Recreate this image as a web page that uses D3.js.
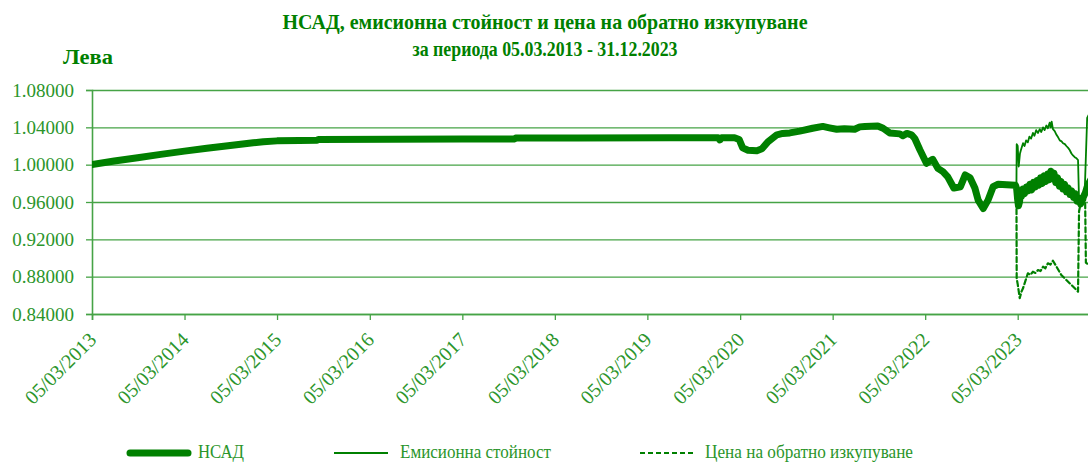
<!DOCTYPE html>
<html>
<head>
<meta charset="utf-8">
<script src="https://cdn.jsdelivr.net/npm/d3@7/dist/d3.min.js"></script>
<style>
  body { margin: 0; background: #ffffff; }
</style>
</head>
<body>
<div id="chart"></div>
<script>
// ---- data ----
const titleLines = [
  "НСАД, емисионна стойност и цена на обратно изкупуване",
  "за периода 05.03.2013 - 31.12.2023"
];
const yUnit = "Лева";
const yTicks = [0.84, 0.88, 0.92, 0.96, 1.00, 1.04, 1.08];
const tickDates = ["2013-03-05", "2014-03-05", "2015-03-05", "2016-03-05", "2017-03-05",
  "2018-03-05", "2019-03-05", "2020-03-05", "2021-03-05", "2022-03-05", "2023-03-05"];
const dateRange = ["2013-03-05", "2023-12-31"];
const seriesNames = ["НСАД", "Емисионна стойност", "Цена на обратно изкупуване"];

// НСАД (net asset value per share)
const navData = [
  ["2013-03-05", 1.000], ["2013-06-01", 1.0040], ["2013-09-01", 1.0075], ["2013-12-01", 1.0110],
  ["2014-03-05", 1.0145], ["2014-06-01", 1.0175], ["2014-09-01", 1.0205], ["2014-12-01", 1.0235],
  ["2015-01-10", 1.0245], ["2015-03-05", 1.0255], ["2015-06-01", 1.0260], ["2015-08-10", 1.0262],
  ["2015-08-15", 1.0270], ["2016-06-01", 1.0272], ["2017-03-05", 1.0274], ["2017-09-28", 1.0276],
  ["2017-10-02", 1.0285], ["2018-06-01", 1.0287], ["2019-06-01", 1.0288], ["2019-12-10", 1.0289],
  ["2019-12-16", 1.0265], ["2019-12-22", 1.0289], ["2020-02-12", 1.0288], ["2020-03-01", 1.0270],
  ["2020-03-15", 1.0180], ["2020-04-05", 1.0155], ["2020-05-10", 1.0150], ["2020-05-30", 1.0170],
  ["2020-06-23", 1.0246], ["2020-07-28", 1.0320], ["2020-08-20", 1.0335], ["2020-09-17", 1.0340],
  ["2020-10-26", 1.0360], ["2020-12-16", 1.0390], ["2021-01-25", 1.0410], ["2021-02-20", 1.0395],
  ["2021-03-21", 1.0380], ["2021-04-20", 1.0385], ["2021-05-31", 1.0380], ["2021-06-20", 1.0405],
  ["2021-07-10", 1.0410], ["2021-08-30", 1.0415], ["2021-09-20", 1.0390], ["2021-10-16", 1.0340],
  ["2021-11-25", 1.0330], ["2021-12-07", 1.0310], ["2021-12-23", 1.0335], ["2022-01-10", 1.0320],
  ["2022-01-23", 1.0280], ["2022-02-12", 1.0160], ["2022-03-10", 1.0015], ["2022-04-04", 1.0057],
  ["2022-04-24", 0.9960], ["2022-05-14", 0.9925], ["2022-06-02", 0.9870], ["2022-06-26", 0.9750],
  ["2022-07-22", 0.9764], ["2022-08-10", 0.9890], ["2022-08-29", 0.9860], ["2022-09-17", 0.9750],
  ["2022-09-30", 0.9620], ["2022-10-20", 0.9530], ["2022-11-08", 0.9620], ["2022-11-28", 0.9764],
  ["2022-12-18", 0.9790], ["2023-02-24", 0.9780], ["2023-03-01", 0.9740], ["2023-03-05", 0.9620],
  ["2023-03-08", 0.9560], ["2023-03-12", 0.9600], ["2023-03-16", 0.9700], ["2023-03-20", 0.9660],
  ["2023-03-26", 0.9740], ["2023-04-01", 0.9690], ["2023-04-08", 0.9760], ["2023-04-15", 0.9720],
  ["2023-04-22", 0.9790], ["2023-04-29", 0.9730], ["2023-05-06", 0.9810], ["2023-05-13", 0.9760],
  ["2023-05-20", 0.9830], ["2023-05-27", 0.9780], ["2023-06-03", 0.9860], ["2023-06-10", 0.9800],
  ["2023-06-17", 0.9880], ["2023-06-24", 0.9820], ["2023-07-01", 0.9900], ["2023-07-08", 0.9840],
  ["2023-07-14", 0.9930], ["2023-07-20", 0.9850], ["2023-07-26", 0.9910], ["2023-08-02", 0.9810],
  ["2023-08-09", 0.9860], ["2023-08-16", 0.9770], ["2023-08-23", 0.9820], ["2023-08-30", 0.9740],
  ["2023-09-06", 0.9790], ["2023-09-13", 0.9710], ["2023-09-20", 0.9750], ["2023-09-27", 0.9680],
  ["2023-10-04", 0.9720], ["2023-10-11", 0.9650], ["2023-10-18", 0.9690], ["2023-10-25", 0.9610],
  ["2023-11-01", 0.9640], ["2023-11-08", 0.9580], ["2023-11-14", 0.9620], ["2023-11-20", 0.9660],
  ["2023-11-27", 0.9700], ["2023-12-06", 0.9780], ["2023-12-31", 0.9900]
];

// Емисионна стойност (issue value)
const issueData = [
  ["2023-02-28", 0.9780], ["2023-03-01", 1.0220], ["2023-03-05", 1.0200], ["2023-03-09", 0.9980],
  ["2023-03-14", 1.0120], ["2023-03-18", 1.0160], ["2023-03-26", 1.0230], ["2023-04-01", 1.0200],
  ["2023-04-07", 1.0260], ["2023-04-14", 1.0240], ["2023-04-20", 1.0300], ["2023-04-27", 1.0280],
  ["2023-05-04", 1.0340], ["2023-05-10", 1.0310], ["2023-05-17", 1.0370], ["2023-05-24", 1.0340],
  ["2023-05-31", 1.0380], ["2023-06-06", 1.0350], ["2023-06-13", 1.0400], ["2023-06-19", 1.0370],
  ["2023-06-26", 1.0420], ["2023-07-02", 1.0390], ["2023-07-09", 1.0450], ["2023-07-13", 1.0400],
  ["2023-07-17", 1.0460], ["2023-07-22", 1.0380], ["2023-07-29", 1.0360], ["2023-08-05", 1.0320],
  ["2023-08-12", 1.0290], ["2023-08-18", 1.0260], ["2023-08-25", 1.0250], ["2023-08-31", 1.0230],
  ["2023-09-07", 1.0220], ["2023-09-13", 1.0200], ["2023-09-20", 1.0180], ["2023-09-26", 1.0157],
  ["2023-10-03", 1.0120], ["2023-10-09", 1.0100], ["2023-10-16", 1.0080], ["2023-10-23", 1.0068],
  ["2023-10-29", 1.0050], ["2023-11-02", 0.9620], ["2023-11-08", 0.9580], ["2023-11-14", 0.9620],
  ["2023-11-20", 0.9660], ["2023-11-24", 0.9680], ["2023-12-04", 1.0500], ["2023-12-31", 1.0650]
];

// Цена на обратно изкупуване (redemption price)
const redeemData = [
  ["2023-02-28", 0.9780], ["2023-03-01", 0.8780], ["2023-03-05", 0.8720], ["2023-03-13", 0.8570],
  ["2023-03-20", 0.8640], ["2023-03-26", 0.8675], ["2023-04-05", 0.8760], ["2023-04-14", 0.8836],
  ["2023-04-24", 0.8820], ["2023-05-04", 0.8853], ["2023-05-14", 0.8840], ["2023-05-24", 0.8871],
  ["2023-06-03", 0.8860], ["2023-06-13", 0.8907], ["2023-06-22", 0.8890], ["2023-07-02", 0.8943],
  ["2023-07-12", 0.8930], ["2023-07-22", 0.8971], ["2023-08-05", 0.8907], ["2023-08-24", 0.8818],
  ["2023-09-13", 0.8764], ["2023-10-03", 0.8711], ["2023-10-23", 0.8657], ["2023-10-29", 0.8639],
  ["2023-11-02", 0.9500], ["2023-11-08", 0.9580], ["2023-11-14", 0.9620], ["2023-11-20", 0.9660],
  ["2023-11-26", 0.9630], ["2023-11-29", 0.8950], ["2023-12-31", 0.8880]
];

// ---- drawing ----
const W = 1088, H = 463;
const margin = { top: 90, left: 92 };
const width = 1002;
const height = 224;
const green = "#008000";
const gridColor = "#46a346";
const labelColor = "#2b952b";
const FONT = '"Liberation Serif", "Times New Roman", "DejaVu Serif", serif';

const parse = d3.timeParse("%Y-%m-%d");
const toPoints = arr => arr.map(([d, v]) => ({ date: parse(d), value: v }));

const svg = d3.select("#chart").append("svg")
  .attr("width", W)
  .attr("height", H);

const x = d3.scaleTime()
  .domain(dateRange.map(parse))
  .range([0, width]);

const y = d3.scaleLinear()
  .domain([d3.min(yTicks), d3.max(yTicks)])
  .range([height, 0]);

// Title (reference glyphs are a bit condensed, hence textLength)
const titleWidths = [525, 265];
svg.append("g").selectAll("text")
  .data(titleLines)
  .enter().append("text")
  .attr("x", 545)
  .attr("y", (d, i) => 29 + i * 27)
  .attr("text-anchor", "middle")
  .attr("textLength", (d, i) => titleWidths[i])
  .attr("lengthAdjust", "spacingAndGlyphs")
  .style("font-family", FONT)
  .style("font-size", "22px")
  .style("font-weight", "bold")
  .style("fill", green)
  .text(d => d);

svg.append("text")
  .attr("x", 63)
  .attr("y", 64)
  .attr("textLength", 50)
  .attr("lengthAdjust", "spacingAndGlyphs")
  .style("font-family", FONT)
  .style("font-size", "22px")
  .style("font-weight", "bold")
  .style("fill", green)
  .text(yUnit);

const g = svg.append("g")
  .attr("transform", `translate(${margin.left},${margin.top})`);

g.append("defs").append("clipPath")
  .attr("id", "plot-clip")
  .append("rect")
  .attr("x", 0).attr("y", -4)
  .attr("width", width).attr("height", height + 8);

// Horizontal grid
g.append("g")
  .attr("class", "grid")
  .call(d3.axisLeft(y).tickValues(yTicks).tickSize(-width).tickFormat(""))
  .call(s => s.select(".domain").remove())
  .selectAll("line")
  .style("stroke", gridColor)
  .style("stroke-width", 1.3);

// Y axis
const yAxis = g.append("g")
  .call(d3.axisLeft(y).tickValues(yTicks).tickSize(6).tickPadding(12).tickFormat(d3.format(".5f")));
yAxis.select(".domain").style("stroke", gridColor).style("stroke-width", 1.6);
yAxis.selectAll(".tick line").style("stroke", gridColor).style("stroke-width", 1.3);
yAxis.selectAll("text")
  .style("font-family", FONT)
  .style("font-size", "19px")
  .style("fill", labelColor);

// X axis
const xAxis = g.append("g")
  .attr("transform", `translate(0,${height})`)
  .call(d3.axisBottom(x)
    .tickValues(tickDates.map(parse))
    .tickSize(6)
    .tickFormat(d3.timeFormat("%d/%m/%Y")));
xAxis.select(".domain").style("stroke", gridColor).style("stroke-width", 1.6);
xAxis.selectAll(".tick line").style("stroke", gridColor).style("stroke-width", 1.3);
xAxis.selectAll("text")
  .attr("x", 0)
  .attr("y", 0)
  .attr("dy", 0)
  .attr("text-anchor", "end")
  .attr("transform", "translate(5,27) rotate(-45)")
  .style("font-family", FONT)
  .style("font-size", "20px")
  .style("fill", labelColor);

// Lines
const line = d3.line()
  .x(d => x(d.date))
  .y(d => y(d.value));

const lines = g.append("g").attr("clip-path", "url(#plot-clip)");

const seriesStyles = [
  { data: navData, width: 7, dash: null },
  { data: issueData, width: 1.8, dash: null },
  { data: redeemData, width: 2.2, dash: "5,3" }
];

seriesStyles.forEach(s => {
  lines.append("path")
    .datum(toPoints(s.data))
    .attr("fill", "none")
    .attr("stroke", green)
    .attr("stroke-width", s.width)
    .attr("stroke-linejoin", "round")
    .attr("stroke-linecap", "round")
    .attr("stroke-dasharray", s.dash)
    .attr("d", line);
});

// Legend
const legendX = [130, 334, 640];
const legendTextW = [46, 151, 208];
const legend = svg.append("g")
  .selectAll("g")
  .data(seriesNames)
  .enter().append("g")
  .attr("transform", (d, i) => `translate(${legendX[i]},453)`);

legend.append("line")
  .attr("x1", 0).attr("x2", (d, i) => i === 0 ? 58 : 54)
  .attr("y1", 0).attr("y2", 0)
  .attr("stroke", green)
  .attr("stroke-width", (d, i) => seriesStyles[i].width)
  .attr("stroke-linecap", (d, i) => i === 0 ? "round" : "butt")
  .attr("stroke-dasharray", (d, i) => seriesStyles[i].dash);

legend.append("text")
  .attr("x", (d, i) => i === 0 ? 68 : (i === 1 ? 66 : 65))
  .attr("y", 5)
  .attr("textLength", (d, i) => legendTextW[i])
  .attr("lengthAdjust", "spacingAndGlyphs")
  .style("font-family", FONT)
  .style("font-size", "18px")
  .style("fill", labelColor)
  .text(d => d);
</script>
</body>
</html>
